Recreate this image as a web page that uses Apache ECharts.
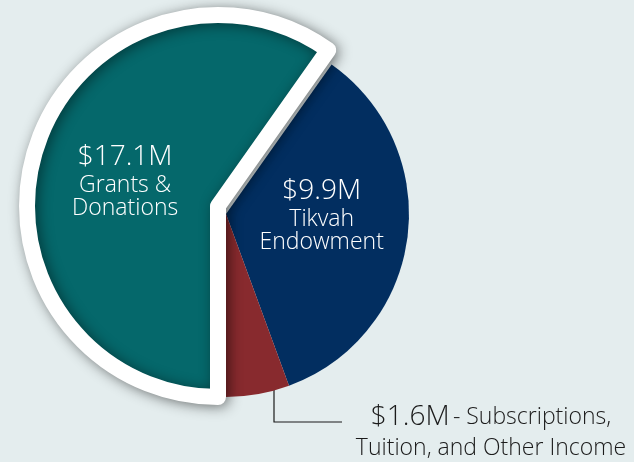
<!DOCTYPE html>
<html><head><meta charset="utf-8">
<script src="https://cdn.jsdelivr.net/npm/echarts@6/dist/echarts.min.js"></script>
<style>html,body{margin:0;padding:0;background:#e4edee;overflow:hidden}#c{width:634px;height:462px}</style>
</head><body><div id="c"></div>
<script>
// ---- data ----
const categories = ['Grants &\nDonations', 'Tikvah\nEndowment', '- Subscriptions,\nTuition, and Other Income'];
const amounts = [17.1, 9.9, 1.6];
const amountLabels = ['$17.1M', '$9.9M', '$1.6M'];
const colors = ['#05686b', '#022e60', '#882a2e'];

// ---- layout ----
const FONT = '"Open Sans", Lato, sans-serif';
const C = [226, 214];
const R = 183;
const CT = [218, 206];   // exploded slice centre
const RT = 191;

function fmt(i) {
  const parts = categories[i].split('\n');
  if (i === 2) {
    return '{bigd|' + amountLabels[i] + '} {smd|' + parts[0] + '}\n{smd|' + parts[1] + '}';
  }
  return '{big|' + amountLabels[i] + '}\n' + parts.map(p => '{sm|' + p + '}').join('\n');
}
const rich = {
  big: {fontFamily: FONT, fontSize: 28, color: '#ffffff', lineHeight: 34, fontWeight: 300},
  sm: {fontFamily: FONT, fontSize: 23, color: '#ffffff', lineHeight: 23, fontWeight: 300},
  bigd: {fontFamily: FONT, fontSize: 28, color: '#1b1b1b', lineHeight: 31, fontWeight: 300},
  smd: {fontFamily: FONT, fontSize: 23, color: '#1b1b1b', lineHeight: 31, fontWeight: 300}
};

const chart = echarts.init(document.getElementById('c'), null, {renderer: 'canvas'});
const option = {
  backgroundColor: '#e4edee',
  animation: false,
  series: [
    {
      type: 'pie', center: C, radius: R, startAngle: 270, clockwise: true,
      silent: true, avoidLabelOverlap: false,
      emphasis: {disabled: true},
      itemStyle: {borderWidth: 0},
      data: amounts.map((v, i) => ({
        value: v, name: categories[i],
        itemStyle: {color: i === 0 ? 'rgba(0,0,0,0)' : colors[i], borderWidth: 0},
        label: i === 0 ? {show: false} : (i === 1 ? {
          show: true, position: 'inside', formatter: fmt(i), rich: rich
        } : {
          show: true, position: 'outside', formatter: fmt(i), rich: rich, align: 'center'
        }),
        labelLine: i === 2 ? {show: true, lineStyle: {color: '#1b1b1b', width: 1.2}} : {show: false}
      })),
      labelLayout: function (p) {
        if (p.dataIndex === 1) return {dy: -12, dx: 2};
        if (p.dataIndex === 2) {
          const sx = C[0] + 48, sy = C[1] + 166;
          const ey = C[1] + 208;
          return {
            x: 491, y: C[1] + 219, align: 'center', verticalAlign: 'middle',
            labelLinePoints: [[sx, sy], [sx, ey], [sx + 68, ey]]
          };
        }
      }
    },
    {
      type: 'pie', center: CT, radius: RT, startAngle: 270, clockwise: true,
      silent: true, avoidLabelOverlap: false,
      emphasis: {disabled: true},
      data: amounts.map((v, i) => ({
        value: v, name: categories[i],
        itemStyle: i === 0 ? {
          color: colors[0], borderColor: '#ffffff', borderWidth: 16,
          shadowColor: 'rgba(0,0,0,0.45)', shadowBlur: 14, shadowOffsetX: 3, shadowOffsetY: 2
        } : {color: 'rgba(0,0,0,0)', borderWidth: 0, shadowBlur: 0},
        label: i === 0 ? {show: true, position: 'inside', formatter: fmt(0), rich: rich} : {show: false},
        labelLine: {show: false}
      })),
      labelLayout: function (p) {
        if (p.dataIndex === 0) return {dx: 1, dy: 4};
      }
    }
  ]
};
chart.setOption(option);
</script>
</body></html>
